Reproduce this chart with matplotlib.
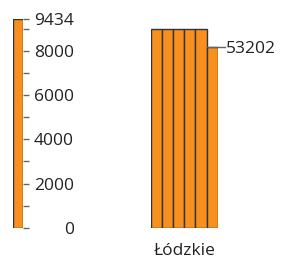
import numpy as np
import matplotlib
matplotlib.use("Agg")
import matplotlib.pyplot as plt

# data
region = "Łódzkie"
total = 53202
segments = [9000, 9000, 9000, 9000, 9000, 8202]
scale_max = 9434
major_ticks = [0, 2000, 4000, 6000, 8000, scale_max]
minor_ticks = [1000, 3000, 5000, 7000, 9000]

orange = "#F7901E"
edge = "#333333"
tick_col = "#666666"
text_col = "#222222"
fsize = 12.5

plt.rcParams["font.family"] = ["Open Sans", "DejaVu Sans"]
W, H = 282, 258
fig = plt.figure(figsize=(W / 100, H / 100), dpi=100)

y0, y1 = 227.7, 19.3
bottom = (H - y0) / H
height = (y0 - y1) / H

# scale bar on the left
ax = fig.add_axes([12.7 / W, bottom, (23.3 - 12.7) / W, height])
ax.bar([0], [scale_max], width=1, color=orange, edgecolor=edge, linewidth=1)
ax.set_xlim(-0.5, 0.5)
ax.set_ylim(0, scale_max)
for s in ax.spines.values():
    s.set_visible(False)
ax.set_xticks([])
ax.yaxis.tick_right()
ax.set_yticks(major_ticks)
ax.set_yticks(minor_ticks, minor=True)
ax.set_yticklabels([str(v) for v in major_ticks])
ax.tick_params(axis="y", which="both", length=4.2, width=1, color=tick_col,
               direction="out")
ax.tick_params(axis="y", which="major", pad=32.2, labelsize=fsize,
               labelcolor=text_col)
for lab in ax.get_yticklabels():
    lab.set_horizontalalignment("right")
    lab.set_verticalalignment("center_baseline")

# bars for the region
bx = fig.add_axes([150.7 / W, bottom, (217.7 - 150.7) / W, height])
xs = np.arange(len(segments))
bx.bar(xs, segments, width=1, color=orange, edgecolor=edge, linewidth=1)
bx.set_xlim(-0.5, len(segments) - 0.5)
bx.set_ylim(0, scale_max)
bx.axis("off")

# total label with leader line
last = segments[-1]
bx.plot([xs[-1] - 0.5, xs[-1] + 1.15], [last, last], color=tick_col,
        lw=1, clip_on=False)
bx.text(xs[-1] + 1.22, last - 130, str(total), ha="left", va="center",
        fontsize=fsize, color=text_col, clip_on=False)

bx.text(0.5, -0.112, region, transform=bx.transAxes, ha="center",
        va="center", fontsize=fsize, color=text_col)

fig.savefig("out.png", dpi=100)
